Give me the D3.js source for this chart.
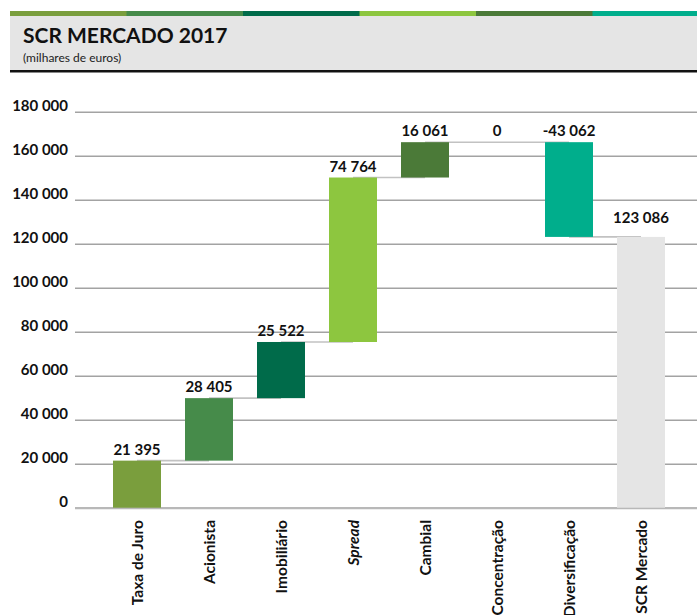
<!DOCTYPE html>
<html>
<head>
<meta charset="utf-8">
<script src="https://cdn.jsdelivr.net/npm/d3@7"></script>
<style>
  html, body { margin: 0; padding: 0; background: #fff; }
  svg { display: block; font-family: Lato, "Open Sans", sans-serif; }
</style>
</head>
<body>
<svg id="chart" width="697" height="615"></svg>
<script>
// ---- data ----
const categories = ["Taxa de Juro", "Acionista", "Imobiliário", "Spread", "Cambial", "Concentração", "Diversificação", "SCR Mercado"];
const values = [21395, 28405, 25522, 74764, 16061, 0, -43062, 123086];
const isTotal = [false, false, false, false, false, false, false, true];
const barColors = ["#7a9e3d", "#468b4a", "#006b4a", "#8dc63f", "#4b7a38", "#4b7a38", "#00ae8c", "#e5e5e5"];
const stripColors = ["#7a9e3d", "#468b4a", "#006b4a", "#8dc63f", "#4b7a38", "#00ae8c"];
const yTicks = [0, 20000, 40000, 60000, 80000, 100000, 120000, 140000, 160000, 180000];
const title = "SCR MERCADO 2017";
const subtitle = "(milhares de euros)";

// ---- build waterfall ----
let run = 0;
const bars = categories.map((c, i) => {
  let start, end;
  if (isTotal[i]) { start = 0; end = values[i]; run = values[i]; }
  else { start = run; end = run + values[i]; run = end; }
  return { cat: c, value: values[i], start, end, color: barColors[i], total: isTotal[i], i };
});

const svg = d3.select("#chart");
const W = 697;

// ---- header ----
const stripX = d3.scaleBand().domain(d3.range(stripColors.length)).range([10, 709]);
svg.append("g").selectAll("rect").data(stripColors).join("rect")
  .attr("x", (d, i) => stripX(i)).attr("y", 11)
  .attr("width", stripX.bandwidth() + 0.5).attr("height", 5)
  .attr("fill", d => d);
svg.append("rect").attr("x", 10).attr("y", 16).attr("width", W - 10).attr("height", 54).attr("fill", "#e5e5e5");
svg.append("rect").attr("x", 10).attr("y", 70).attr("width", W - 10).attr("height", 2.5).attr("fill", "#111");
svg.append("text").attr("x", 23).attr("y", 43).text(title)
  .attr("font-size", 21).attr("font-weight", 700).attr("fill", "#111");
svg.append("text").attr("x", 23).attr("y", 62).text(subtitle)
  .attr("font-size", 12).attr("fill", "#222");

// ---- scales ----
const y = d3.scaleLinear().domain([0, 180000]).range([507.7, 111.7]);
const x = d3.scaleBand().domain(categories).range([101, 677]).paddingInner(1 / 3).paddingOuter(1 / 6);
const bw = x.bandwidth();
const fmt = d3.formatLocale({ decimal: ",", thousands: "\u2009", grouping: [3], currency: ["", "€"] }).format(",d");
const fmtLbl = v => fmt(v).replace("\u2009", " ");

// ---- grid + y labels ----
const yAxis = d3.axisLeft(y).tickValues(yTicks).tickSize(-(W - 75)).tickPadding(7)
  .tickFormat(d => fmtLbl(d));
const gy = svg.append("g").attr("transform", "translate(75,0)").call(yAxis);
gy.select(".domain").remove();
gy.selectAll(".tick line")
  .attr("stroke", d => d === 0 ? "#b8b8b8" : "#a3a3a3")
  .attr("stroke-width", d => d === 0 ? 2.2 : 1.4);
gy.selectAll(".tick text")
  .attr("font-size", 15).attr("font-weight", 700).attr("fill", "#111")
  .attr("font-family", "Lato, sans-serif").attr("dy", "-0.05em");

// ---- connectors ----
const conn = bars.slice(0, -1).map((b, i) => ({ level: b.end, from: b, to: bars[i + 1] }));
svg.append("g").selectAll("line").data(conn).join("line")
  .attr("x1", d => x(d.from.cat) + bw / 2)
  .attr("x2", d => x(d.to.cat) + bw / 2)
  .attr("y1", d => y(d.level)).attr("y2", d => y(d.level))
  .attr("stroke", "#c2c2c2").attr("stroke-width", 1.6);

// ---- bars ----
svg.append("g").selectAll("rect").data(bars.filter(b => b.value !== 0)).join("rect")
  .attr("x", d => x(d.cat))
  .attr("y", d => y(Math.max(d.start, d.end)))
  .attr("width", bw)
  .attr("height", d => Math.abs(y(d.start) - y(d.end)))
  .attr("fill", d => d.color);

// ---- value labels ----
svg.append("g").selectAll("text").data(bars).join("text")
  .attr("x", d => x(d.cat) + bw / 2)
  .attr("y", d => y(Math.max(d.start, d.end)) - (d.total ? 14 : 6))
  .attr("text-anchor", "middle")
  .attr("font-size", 15).attr("font-weight", 700).attr("fill", "#111")
  .text(d => (d.value < 0 ? "-" : "") + fmtLbl(Math.abs(d.value)));

// ---- category labels ----
svg.append("g").selectAll("text").data(bars).join("text")
  .attr("transform", d => `translate(${x(d.cat) + bw / 2 + 6},520) rotate(-90)`)
  .attr("text-anchor", "end")
  .attr("font-size", 15.5).attr("font-weight", 700).attr("fill", "#111")
  .attr("font-style", d => d.cat === "Spread" ? "italic" : "normal")
  .text(d => d.cat);
</script>
</body>
</html>
